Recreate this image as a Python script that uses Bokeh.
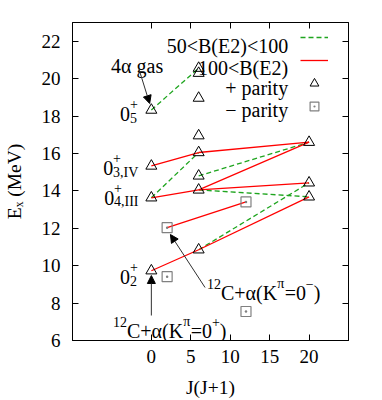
import math
from bokeh.plotting import figure
from bokeh.models import (Range1d, FixedTicker, LinearAxis, Label, Arrow, NormalHead,
                          Legend, LegendItem, ColumnDataSource, CustomJSTickFormatter)
from bokeh.core.properties import value
from bokeh.embed import file_html
from bokeh.resources import INLINE

# ---------------- data ----------------
plus_J = [0, 0, 0, 0, 6, 6, 6, 6, 6, 6, 6, 6, 20, 20, 20]
plus_E = [18.32, 15.33, 13.63, 9.73, 20.56, 20.29, 18.96, 16.95, 16.05,
          14.80, 14.05, 10.85, 16.60, 14.43, 13.68]
minus_J = [2, 2, 12, 12]
minus_E = [12.03, 9.41, 13.41, 7.55]

# transitions (indices into the + parity states)
green_from = [0, 2, 9, 10, 11]
green_to = [4, 8, 12, 14, 13]
red_from = [1, 8, 2, 10, 10, 3, 11]
red_to = [8, 12, 10, 12, 13, 11, 14]
# transitions among the - parity states
red_minus_from = [0]
red_minus_to = [2]

x_ticks = [0, 5, 10, 15, 20]
y_ticks = [6, 8, 10, 12, 14, 16, 18, 20, 22]
legend_labels = ["50<B(E2)<100", "100<B(E2)", "+ parity", "\u2212 parity"]
state_label_index = [0, 1, 2, 3]
state_label_sub = ["5", "3,IV", "4,III", "2"]
x_title = "J(J+1)"
y_title = "E\u2093 (MeV)"

FONT = "Liberation Serif"
GREEN = "#1fa51f"
RED = "#ff0000"
GRAY = "#808080"

p = figure(width=382, height=400, x_range=Range1d(-10, 25), y_range=Range1d(6, 23),
           output_backend="svg", toolbar_location=None,
           min_border_left=69, min_border_right=34, min_border_top=22, min_border_bottom=60)
p.grid.visible = False
p.outline_line_color = "black"
p.outline_line_width = 1
p.background_fill_color = "white"
p.border_fill_color = "white"


def style_axis(ax):
    ax.major_tick_in = 6
    ax.major_tick_out = 0
    ax.minor_tick_line_color = None
    ax.axis_line_color = "black"
    ax.major_tick_line_color = "black"
    ax.major_label_text_font = FONT
    ax.major_label_text_font_size = "19px"
    ax.major_label_text_color = "black"
    ax.axis_label_text_font = FONT
    ax.axis_label_text_font_size = "19.5px"
    ax.axis_label_text_font_style = "normal"
    ax.axis_label_text_color = "black"


p.xaxis.ticker = FixedTicker(ticks=x_ticks)
p.yaxis.ticker = FixedTicker(ticks=y_ticks)
style_axis(p.xaxis[0])
style_axis(p.yaxis[0])
p.xaxis.major_label_standoff = 9
p.yaxis.major_label_standoff = 12
p.xaxis.axis_label = x_title
p.xaxis.axis_label_standoff = 11
p.yaxis.axis_label = y_title
p.yaxis.axis_label_standoff = 14

for place, ticks in (("above", x_ticks), ("right", y_ticks)):
    ax = LinearAxis(ticker=FixedTicker(ticks=ticks),
                    formatter=CustomJSTickFormatter(code="return ''"))
    style_axis(ax)
    ax.major_label_text_font_size = "1px"
    ax.major_label_standoff = 0
    p.add_layout(ax, place)

# ---------------- transitions ----------------
gsrc = ColumnDataSource(dict(
    x0=[plus_J[i] for i in green_from], y0=[plus_E[i] for i in green_from],
    x1=[plus_J[i] for i in green_to], y1=[plus_E[i] for i in green_to]))
rsrc = ColumnDataSource(dict(
    x0=[plus_J[i] for i in red_from] + [minus_J[i] for i in red_minus_from],
    y0=[plus_E[i] for i in red_from] + [minus_E[i] for i in red_minus_from],
    x1=[plus_J[i] for i in red_to] + [minus_J[i] for i in red_minus_to],
    y1=[plus_E[i] for i in red_to] + [minus_E[i] for i in red_minus_to]))

g_r = p.segment("x0", "y0", "x1", "y1", source=gsrc, line_color=GREEN,
                line_dash="5 3", line_width=1.3)
r_r = p.segment("x0", "y0", "x1", "y1", source=rsrc, line_color=RED, line_width=1.3)

plus_r = p.scatter(plus_J, plus_E, marker="triangle", size=11, fill_color=None,
                   line_color="black", line_width=1)
minus_r = p.scatter(minus_J, minus_E, marker="square_dot", size=10, fill_color=None,
                    line_color=GRAY, line_width=1.2)

# ---------------- legend (samples on the right of the text) ----------------
legend = Legend(items=[LegendItem(label=value(" "), renderers=[g_r]),
                       LegendItem(label=value(" "), renderers=[r_r]),
                       LegendItem(label=value(" "), renderers=[plus_r]),
                       LegendItem(label=value(" "), renderers=[minus_r])],
                location="top_right", margin=4, padding=0, spacing=1,
                glyph_width=28, glyph_height=22, label_standoff=16,
                label_width=0, label_height=0, label_text_font_size="8px",
                background_fill_alpha=0, border_line_color=None)
p.add_layout(legend)

# ---------------- helpers for annotation layout (page pixels -> data) ----------------
FL, FR, FT, FB = 69, 348, 22, 340


def dx(px):
    return -10 + (px - FL) * 35 / (FR - FL)


def dy(py):
    return 6 + (FB - py) * 17 / (FB - FT)


def py_of(E):
    return FB - (E - 6) * (FB - FT) / 17


def add_text(px, py, text, size, align="left"):
    p.add_layout(Label(x=dx(px), y=dy(py), text=text, text_font=FONT,
                       text_font_size=f"{size}px", text_align=align,
                       text_baseline="alphabetic", text_color="black"))


W = {'C': .667, '+': .564, '(': .333, ')': .333, 'K': .722, '=': .564,
     '\u03b1': .56, '\u03c0': .55, '\u2212': .564, ' ': .25}


def tw(s, size):
    return sum(W.get(c, .5) for c in s) * size


def runs(px, py, parts):
    x = px
    for text, kind in parts:
        size, off = (20, 0) if kind == "m" else (14, -9)
        add_text(x, py + off, text, size)
        x += tw(text, size)


# legend texts
leg_baselines = [45, 67, 87, 109]
for t, b in zip(legend_labels, leg_baselines):
    add_text(287, b, t, 20, align="right")

# state labels 0^+_n
lab_left = [117, 100, 101, 117]
lab_drop = [3.5, 2.5, 0, 6]
for k, idx in enumerate(state_label_index):
    B = py_of(plus_E[idx]) + lab_drop[k]
    L = lab_left[k]
    add_text(L, B, "0", 20)
    add_text(L + 10, B - 10, "+", 14)
    add_text(L + 10, B + 4, state_label_sub[k], 14)

# 4 alpha gas
add_text(108, 65, "4\u03b1 gas", 20)
head = dict(size=8, fill_color="black", line_color="black")
p.add_layout(Arrow(end=NormalHead(**head), x_start=dx(136), y_start=dy(68),
                   x_end=dx(147), y_end=dy(103), line_color="#303030", line_width=1))

# 12C + alpha (K=0+)
runs(110, 330, [("12", "s"), ("C+\u03b1(K", "m"), ("\u03c0", "s"), ("=0", "m"),
                ("+", "s"), (")", "m")])
p.add_layout(Arrow(end=NormalHead(**head), x_start=0, y_start=dy(315),
                   x_end=0, y_end=dy(275), line_color="#303030", line_width=1))

# 12C + alpha (K=0-)
runs(205, 292, [("12", "s"), ("C+\u03b1(K", "m"), ("\u03c0", "s"), ("=0", "m"),
                ("\u2212", "s"), (")", "m")])
p.add_layout(Arrow(end=NormalHead(**head), x_start=dx(203), y_start=dy(287),
                   x_end=dx(168), y_end=dy(234), line_color="#303030", line_width=1))

open("out.html", "w").write(file_html(p, INLINE))
